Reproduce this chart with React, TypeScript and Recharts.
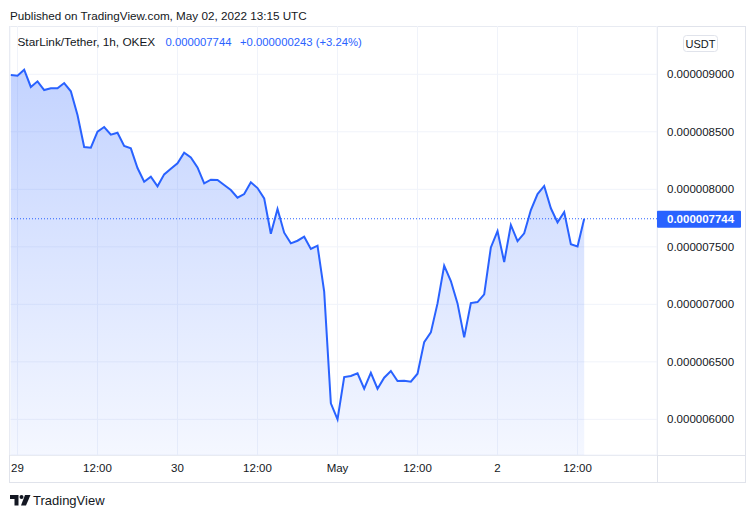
import React from 'react';
import { AreaChart, Area, XAxis, YAxis, CartesianGrid, ReferenceLine } from 'recharts';

// hourly closes (USDT), first bar = Apr 28 23:00, last = May 2 13:00
const prices: number[] = [
  0.000008994, 0.000008988, 0.00000904, 0.00000889, 0.000008939, 0.000008863, 0.000008878, 0.000008878,
  0.000008924, 0.000008852, 0.000008646, 0.000008368, 0.000008362, 0.000008501, 0.000008542, 0.000008475,
  0.000008492, 0.000008377, 0.000008356, 0.000008185, 0.000008066, 0.00000811, 0.000008026, 0.00000813,
  0.000008179, 0.000008226, 0.000008318, 0.000008278, 0.000008191, 0.000008052, 0.000008084, 0.000008081,
  0.000008037, 0.000007994, 0.000007927, 0.000007959, 0.000008061, 0.000008011, 0.000007921, 0.000007614,
  0.000007829, 0.000007623, 0.00000753, 0.000007553, 0.000007588, 0.000007481, 0.00000751, 0.00000711,
  0.000006139, 0.000006, 0.000006368, 0.000006377, 0.0000064, 0.000006266, 0.000006405, 0.000006266,
  0.000006362, 0.00000642, 0.000006333, 0.000006336, 0.000006327, 0.000006397, 0.000006672, 0.000006756,
  0.000007008, 0.000007336, 0.000007203, 0.000007008, 0.000006713, 0.000007011, 0.00000702, 0.000007087,
  0.000007495, 0.000007637, 0.000007368, 0.00000769, 0.00000755, 0.000007617, 0.00000782, 0.000007959,
  0.000008029, 0.000007835, 0.000007713, 0.000007803, 0.000007522, 0.000007504, 0.000007744,
];
const firstHour = -1; // hours relative to Apr 29 00:00

const timeTicks: number[] = [0, 12, 24, 36, 48, 60, 72, 84];
const timeLabels: string[] = ['29', '12:00', '30', '12:00', 'May', '12:00', '2', '12:00'];
const priceTicks: number[] = [0.000006, 0.0000065, 0.000007, 0.0000075, 0.000008, 0.0000085, 0.000009];
const lastPrice = 0.000007744;
const change = '+0.000000243 (+3.24%)';
const symbolText = 'StarLink/Tether, 1h, OKEX';
const publishedText = 'Published on TradingView.com, May 02, 2022 13:15 UTC';

const data = prices.map((p, i) => ({ t: firstHour + i, price: p }));

const FONT = '"Liberation Sans", Arial, sans-serif';
const TEXT = '#131722';
const BLUE = '#2962ff';
const BORDER = '#e0e3eb';

const PriceLabel = (props: any) => {
  const vb = props.viewBox || {};
  const x = vb.x + vb.width;
  const y = vb.y;
  return (
    <g>
      <rect x={x} y={y - 8} width={84} height={17} fill={BLUE} rx={1} />
      <text x={x + 10} y={y + 4.5} fill="#ffffff" fontSize={11.5} fontWeight="bold" fontFamily={FONT}>
        {lastPrice.toFixed(9)}
      </text>
    </g>
  );
};

export default function App() {
  return (
    <div style={{ position: 'absolute', left: 0, top: 0, width: 755, height: 518, background: '#fff', fontFamily: FONT }}>
      <svg width={755} height={518} style={{ position: 'absolute', left: 0, top: 0 }}>
        <text x={10} y={19.5} fontSize={11.7} fill={TEXT} fontFamily={FONT}>{publishedText}</text>
        <rect x={9.5} y={26.5} width={736} height={456} fill="none" stroke={BORDER} />
        <line x1={657.5} y1={26} x2={657.5} y2={483} stroke={BORDER} />
        <line x1={9} y1={455.5} x2={746} y2={455.5} stroke={BORDER} />
        <rect x={683.5} y={35.5} width={34} height={16} rx={3} fill="#fff" stroke={BORDER} />
        <text x={700.5} y={47.5} fontSize={11} textAnchor="middle" fill={TEXT} fontFamily={FONT}>USDT</text>
        {/* logo */}
        <path d="M10 495 h8.5 v10.5 h-4 v-6.5 h-4.5 z" fill={TEXT} />
        <circle cx={21.5} cy={497} r={2} fill={TEXT} />
        <path d="M25 495 h5.5 l-4.5 10.5 h-5 z" fill={TEXT} />
        <text x={33} y={505} fontSize={13} fill={TEXT} fontFamily={FONT}>TradingView</text>
      </svg>
      <div style={{ position: 'absolute', left: 9, top: 26 }}>
        <AreaChart width={736} height={456} data={data} margin={{ top: 0, right: 0, bottom: 0, left: 1 }}>
          <defs>
            <linearGradient id="areaFill" x1="0" y1="0" x2="0" y2="1">
              <stop offset="0%" stopColor={BLUE} stopOpacity={0.28} />
              <stop offset="100%" stopColor={BLUE} stopOpacity={0.05} />
            </linearGradient>
          </defs>
          <CartesianGrid stroke="#f0f3fa" />
          <XAxis
            dataKey="t"
            type="number"
            domain={[-1.125, 95.92]}
            ticks={timeTicks}
            tickFormatter={(v: number) => timeLabels[timeTicks.indexOf(v)] ?? ''}
            axisLine={false}
            tickLine={false}
            tickSize={0}
            tickMargin={9}
            height={27}
            tick={{ fill: TEXT, fontSize: 11.5, fontFamily: FONT }}
            allowDataOverflow
          />
          <YAxis
            orientation="right"
            type="number"
            domain={[0.00000569, 0.00000942]}
            ticks={priceTicks}
            tickFormatter={(v: number) => v.toFixed(9)}
            axisLine={false}
            tickLine={false}
            tickSize={0}
            tickMargin={10}
            width={88}
            tick={{ fill: TEXT, fontSize: 11.5, fontFamily: FONT, textAnchor: 'start' }}
            allowDataOverflow
          />
          <Area
            type="linear"
            dataKey="price"
            stroke={BLUE}
            strokeWidth={2}
            fill="url(#areaFill)"
            fillOpacity={1}
            isAnimationActive={false}
            dot={false}
            activeDot={false}
          />
          <ReferenceLine y={lastPrice} stroke={BLUE} strokeDasharray="1 2" strokeWidth={1} label={PriceLabel} />
        </AreaChart>
      </div>
      <svg width={755} height={60} style={{ position: 'absolute', left: 0, top: 0, pointerEvents: 'none' }}>
        <text x={17.5} y={46} fontSize={11.8} fill={TEXT} fontFamily={FONT}>{symbolText}</text>
        <text x={165.5} y={46} fontSize={11.3} fill={BLUE} fontFamily={FONT}>{lastPrice.toFixed(9)}</text>
        <text x={240} y={46} fontSize={11.3} fill={BLUE} fontFamily={FONT}>{change}</text>
      </svg>
    </div>
  );
}
